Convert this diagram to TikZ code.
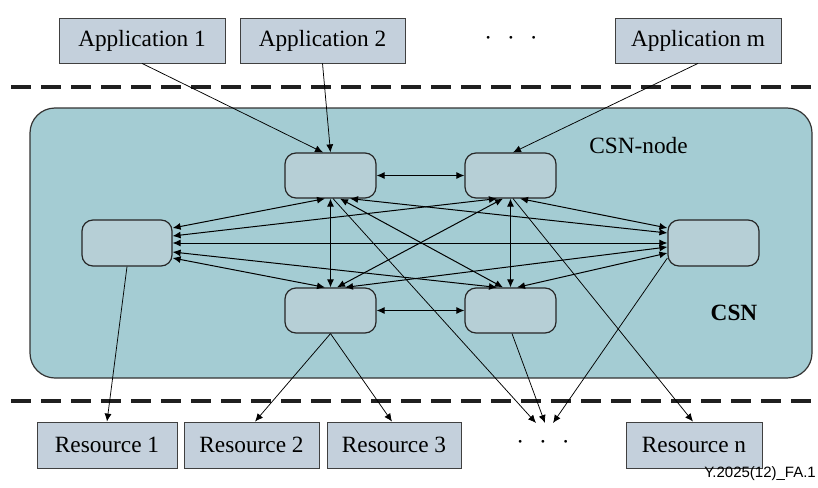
\documentclass[tikz,border=0pt]{standalone}
\usepackage{fontspec}
\setmainfont{Liberation Serif}
\newfontfamily\labelfont{Liberation Sans}
\usetikzlibrary{arrows.meta}
\definecolor{appfill}{RGB}{196,208,220}
\definecolor{csnfill}{RGB}{164,204,211}
\definecolor{nodefill}{RGB}{182,207,214}
\begin{document}
\begin{tikzpicture}[x=1pt,y=-1pt,
  txt/.style={font=\fontsize{23.3}{28}\selectfont},
  box/.style={txt, draw=black!75, line width=0.8pt, fill=appfill, minimum height=45pt, inner sep=0pt},
  cnode/.style={draw=black!85, line width=1.2pt, fill=nodefill, rounded corners=11pt, minimum width=91pt, minimum height=45pt, inner sep=0pt},
  container/.style={draw=black!80, line width=1.2pt, fill=csnfill, rounded corners=25pt, inner sep=0pt},
  link/.style={line width=1pt, {Latex[length=8pt,width=7pt]}-{Latex[length=8pt,width=7pt]}},
  feed/.style={line width=0.75pt, -{Latex[length=8pt,width=7pt]}},
  sep/.style={line width=4pt, dash pattern=on 20pt off 10pt, draw=black!88}
]
\useasboundingbox (0,0) rectangle (818,487);
% CSN container
\node[container, minimum width=782pt, minimum height=270pt] (csn) at (421,243) {};
% separators
\coordinate (sTa) at (11,87); \coordinate (sTb) at (818,87);
\coordinate (sBa) at (11,401); \coordinate (sBb) at (818,401);
\draw[sep] (sTa) -- (sTb);
\draw[sep] (sBa) -- (sBb);
% applications
\node[box, minimum width=166pt] (app1) at (142,40.5) {Application 1};
\node[box, minimum width=165pt] (app2) at (322.5,40.5) {Application 2};
\node[box, minimum width=166pt] (appm) at (698,40.5) {Application m};
\node[txt, inner sep=0pt] (dotsT) at (511,40.7) {·\hspace{15pt}·\hspace{15pt}·};
% resources
\node[box, minimum width=140pt, minimum height=46pt] (res1) at (107,445) {Resource 1};
\node[box, minimum width=135pt, minimum height=46pt] (res2) at (251.5,445) {Resource 2};
\node[box, minimum width=134pt, minimum height=46pt] (res3) at (394,445) {Resource 3};
\node[box, minimum width=136pt, minimum height=46pt] (resn) at (694,445) {Resource n};
\node[txt, inner sep=0pt] (dotsB) at (543,445) {·\hspace{15pt}·\hspace{15pt}·};
% CSN nodes
\node[cnode] (TL) at (330.5,175.5) {};
\node[cnode] (TR) at (510.5,175.5) {};
\node[cnode, minimum width=90pt, minimum height=46pt] (L) at (127,243) {};
\node[cnode, minimum height=46pt] (R) at (713.5,243) {};
\node[cnode] (BL) at (330.5,310.5) {};
\node[cnode] (BR) at (510.5,310.5) {};
% labels
\node[txt, anchor=base, inner sep=0pt] (csnnode) at (638.5,153) {CSN-node};
\node[txt, anchor=base, inner sep=0pt, font=\fontsize{23.3}{28}\selectfont\bfseries] (csnlbl) at (734,320) {CSN};
\node[anchor=base east, inner sep=0pt, font=\labelfont\fontsize{15}{17}\selectfont] (fig) at (816,477) {Y.2025(12)\_FA.1};
% mesh
\draw[link] (TL.east) -- (TR.west);
\draw[link] (BL.east) -- (BR.west);
\draw[link] (TL.south) -- (BL.north);
\draw[link] (TR.south) -- (BR.north);
\draw[link] (L.east) -- (R.west);
\draw[link] ([yshift=15pt]L.east) -- ([xshift=-5.5pt]TL.south);
\draw[link] ([yshift=7pt]L.east) -- ([xshift=-13.5pt]TR.south);
\draw[link] ([yshift=-9pt]L.east) -- ([xshift=-13.5pt]BR.north);
\draw[link] ([yshift=-15pt]L.east) -- ([xshift=-5.5pt]BL.north);
\draw[link] ([yshift=15pt]R.west) -- ([xshift=9.5pt]TR.south);
\draw[link] ([yshift=10pt]R.west) -- ([xshift=19.5pt]TL.south);
\draw[link] ([yshift=-4pt]R.west) -- ([xshift=14.5pt]BL.north);
\draw[link] ([yshift=-10pt]R.west) -- ([xshift=6.5pt]BR.north);
\draw[link] ([xshift=9.5pt]TL.south) -- ([xshift=-7.5pt]BR.north);
\draw[link] ([xshift=-7.5pt]TR.south) -- ([xshift=6.5pt]BL.north);
% feeds
\draw[feed] (app1.south) -- ([xshift=-7.5pt]TL.north);
\draw[feed] (app2.south) -- (TL.north);
\draw[feed] (appm.south) -- ([xshift=2.5pt]TR.north);
\draw[feed] (L.south) -- (res1.north);
\draw[feed] (BL.south) -- ([xshift=3.5pt]res2.north);
\draw[feed] (BL.south) -- ([xshift=-2pt]res3.north);
\coordinate (d1) at (536,423);
\coordinate (d2) at (545,423);
\coordinate (d3) at (553,423);
\draw[feed] ([xshift=2.5pt]TL.south) -- (d1);
\draw[feed] ([xshift=1.5pt]BR.south) -- (d2);
\draw[feed] ([yshift=-15pt]R.west) -- (d3);
\draw[feed] ([xshift=2.5pt]TR.south) -- ([xshift=-1pt]resn.north);
\end{tikzpicture}
\end{document}
